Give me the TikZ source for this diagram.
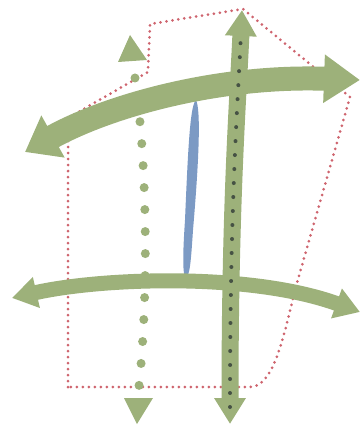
\documentclass[tikz,border=0pt]{standalone}
\usetikzlibrary{arrows.meta}
\definecolor{sage}{RGB}{157,177,122}
\definecolor{slateblue}{RGB}{124,154,196}
\definecolor{fencered}{RGB}{206,100,110}
\definecolor{darkdot}{RGB}{70,82,68}

\begin{document}
\begin{tikzpicture}[x=0.03cm,y=-0.03cm,
      fence/.style={fencered,line width=0.09cm,line cap=round,dash pattern=on 0pt off 0.18cm},
      wide arrow/.style={sage,line width=0.72cm,{Triangle[length=0.96cm,width=1.38cm]}-{Triangle[length=1.08cm,width=1.38cm]}},
      thin arrow/.style={sage,line width=0.45cm,{Triangle[length=0.75cm,width=0.9cm]}-{Triangle[length=0.75cm,width=0.9cm]}},
      main arrow/.style={sage,line width=0.51cm,{Triangle[length=0.78cm,width=0.9cm]}-{Triangle[length=0.78cm,width=0.9cm]}},
      inner dots/.style={darkdot,line width=0.12cm,line cap=round,dash pattern=on 0pt off 0.42cm},
      big dots/.style={sage,line width=0.27cm,line cap=round,dash pattern=on 0pt off 0.66cm}]
      \useasboundingbox (0,0) rectangle (361,426);

      % end points
      \coordinate (upper w) at (25,152);
      \coordinate (upper e) at (360,80);
      \coordinate (lower w) at (12,298);
      \coordinate (lower e) at (360,312);
      \coordinate (main s) at (230,424);
      \coordinate (main n) at (242,10);
      \coordinate (path n) at (135,78);
      \coordinate (path s) at (139,386);

      % site boundary
      \draw[fence] (68,387) -- (68,118) -- (148,72) -- (150,24) -- (243,9)
        -- (350,97) -- (295,290) .. controls (282,345) and (272,387) .. (250,387) -- cycle;

      % blue stroke
      \fill[slateblue] (196,100) .. controls (201,110) and (199,160) .. (193,230)
        .. controls (191,260) and (190,275) .. (186,278)
        .. controls (182,276) and (183,250) .. (185,220)
        .. controls (188,150) and (190,105) .. (196,100) -- cycle;

      % dotted path
      \draw[big dots] (path n) .. controls (148,170) and (148,300) .. (path s);
      \fill[sage] (130,35) -- (147,60) -- (118,62) -- cycle;
      \fill[sage] (124,398) -- (153,398) -- (137,424) -- cycle;

      % arcs
      \draw[thin arrow] (lower w) .. controls (100,278) and (250,272) .. (lower e);
      \draw[wide arrow] (upper w) .. controls (110,105) and (220,75) .. (upper e);

      % main axis
      \draw[main arrow] (main s) .. controls (230,200) and (238,100) .. (main n);
      \draw[inner dots,shorten <=0.51cm,shorten >=0.81cm]
        (main s) .. controls (230,200) and (238,100) .. (main n);
\end{tikzpicture}
\end{document}
